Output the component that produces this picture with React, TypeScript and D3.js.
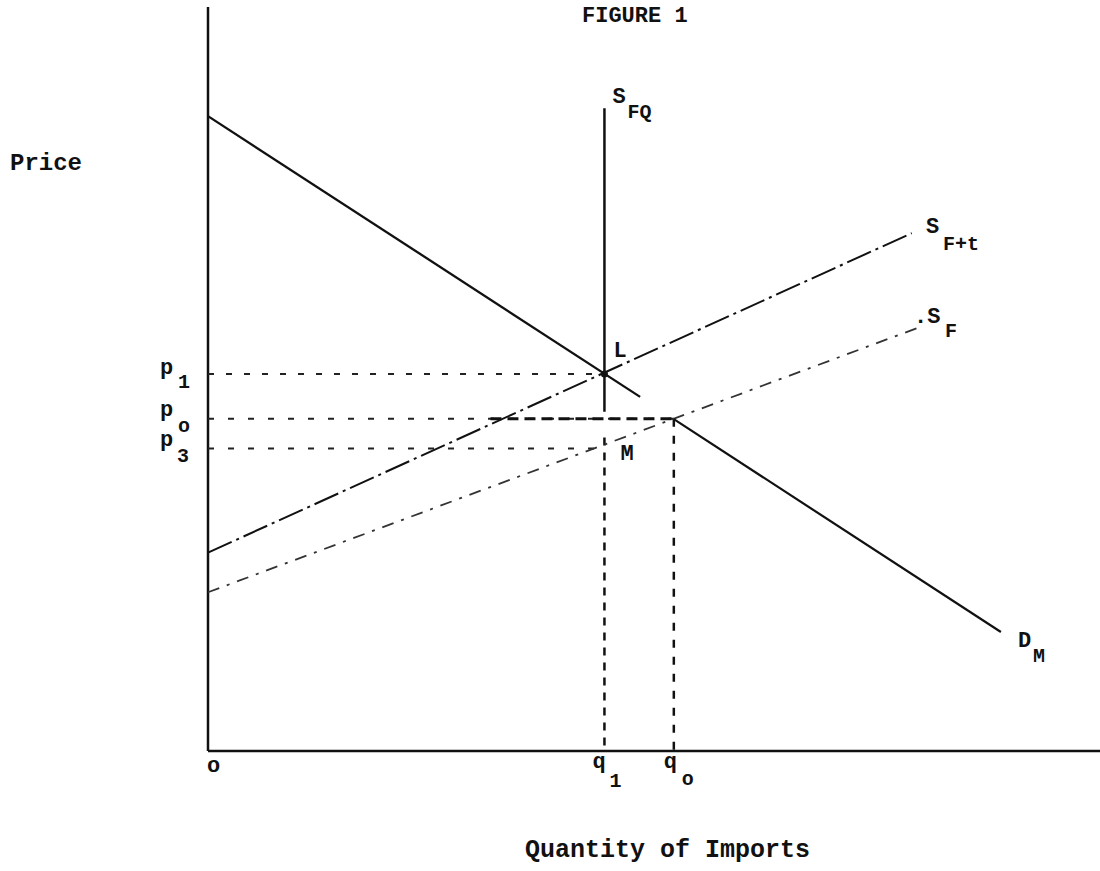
import React from "react";
import * as d3 from "d3";

const W = 1100;
const H = 871;

// values (quantity on x, price on y)
const qDomain = [0, 90];
const pDomain = [0, 75];
const q1 = 40;
const q0 = 47;
const p1 = 38;
const p0 = 33.5;
const p3 = 30.5;

const demandUpper = [{ q: 0, p: 64 }, { q: 43.6, p: 35.7 }];
const demandLower = [{ q: 47, p: 33.45 }, { q: 80, p: 12 }];
const supplyTariff = [{ q: 0, p: 20 }, { q: 71, p: 52.2 }];
const supplyForeign = [{ q: 0, p: 16 }, { q: 72, p: 42.8 }];
const quota = [{ q: 40, p: 64.8 }, { q: 40, p: 34.2 }];
const quotaDrop = [{ q: 40, p: 31.6 }, { q: 40, p: 0 }];
const p0Heavy = [{ q: 28.5, p: 33.5 }, { q: 47, p: 33.5 }];
const p3End = 39;

const font = "'Liberation Mono', 'DejaVu Sans Mono', monospace";

export default function App() {
  const x = d3.scaleLinear().domain(qDomain).range([208, 1100]);
  const y = d3.scaleLinear().domain(pDomain).range([751, 7]);

  const line = d3.line<{ q: number; p: number }>()
    .x((d) => x(d.q))
    .y((d) => y(d.p));

  const txt = { fontFamily: font, fontWeight: "bold" as const, fill: "#111" };

  return (
    <div style={{ position: "absolute", left: 0, top: 0 }}>
      <svg width={W} height={H} style={{ display: "block", background: "#fff" }}>
        {/* axes */}
        <line x1={x(0)} x2={x(0)} y1={y(pDomain[1])} y2={y(0)} stroke="#111" strokeWidth={2.5} />
        <line x1={x(0)} x2={x(qDomain[1])} y1={y(0)} y2={y(0)} stroke="#111" strokeWidth={2.5} />

        {/* price guide lines */}
        <line x1={x(0)} x2={x(q1)} y1={y(p1)} y2={y(p1)} stroke="#222" strokeWidth={2} strokeDasharray="6 12" />
        <line x1={x(0)} x2={x(q0)} y1={y(p0)} y2={y(p0)} stroke="#222" strokeWidth={2} strokeDasharray="6 14" />
        <path d={line(p0Heavy) || ""} stroke="#111" strokeWidth={3} strokeDasharray="11 6" fill="none" />
        <line x1={x(0)} x2={x(p3End)} y1={y(p3)} y2={y(p3)} stroke="#222" strokeWidth={2} strokeDasharray="6 14" />

        {/* quantity guide lines */}
        <path d={line(quotaDrop) || ""} stroke="#111" strokeWidth={2.5} strokeDasharray="8 7" fill="none" />
        <line x1={x(q0)} x2={x(q0)} y1={y(p0)} y2={y(0)} stroke="#111" strokeWidth={2.5} strokeDasharray="8 9" />

        {/* supply curves */}
        <path d={line(supplyTariff) || ""} stroke="#111" strokeWidth={2} strokeDasharray="26 5 3 5" fill="none" />
        <path d={line(supplyForeign) || ""} stroke="#333" strokeWidth={1.8} strokeDasharray="12 8 3 8" fill="none" />
        <path d={line(quota) || ""} stroke="#111" strokeWidth={2.5} fill="none" />

        {/* import demand */}
        <path d={line(demandUpper) || ""} stroke="#111" strokeWidth={2.3} fill="none" />
        <path d={line(demandLower) || ""} stroke="#111" strokeWidth={2.2} fill="none" />
        <circle cx={x(q1)} cy={y(p1)} r={3.5} fill="#111" />

        {/* labels */}
        <text x={582} y={22} fontSize={22} {...txt}>FIGURE 1</text>
        <text x={10} y={170} fontSize={24} {...txt}>Price</text>
        <text x={525} y={857} fontSize={25} {...txt}>Quantity of Imports</text>

        <text x={x(q1) + 8} y={103} fontSize={22} {...txt}>S</text>
        <text x={x(q1) + 23} y={118} fontSize={20} {...txt}>FQ</text>
        <text x={x(q1) + 9} y={357} fontSize={22} {...txt}>L</text>
        <text x={x(q1) + 16} y={460} fontSize={22} {...txt}>M</text>

        <text x={926} y={233} fontSize={22} {...txt}>S</text>
        <text x={943} y={250} fontSize={20} {...txt}>F+t</text>
        <text x={914} y={323} fontSize={22} {...txt}>.S</text>
        <text x={945} y={337} fontSize={20} {...txt}>F</text>
        <text x={1018} y={647} fontSize={22} {...txt}>D</text>
        <text x={1033} y={662} fontSize={20} {...txt}>M</text>

        <text x={160} y={y(p1)} fontSize={22} {...txt}>p</text>
        <text x={178} y={y(p1) + 14} fontSize={20} {...txt}>1</text>
        <text x={160} y={y(p0) - 3} fontSize={22} {...txt}>p</text>
        <text x={178} y={y(p0) + 13} fontSize={20} {...txt}>o</text>
        <text x={160} y={y(p3) - 2} fontSize={22} {...txt}>p</text>
        <text x={177} y={y(p3) + 14} fontSize={20} {...txt}>3</text>

        <text x={x(0) - 1} y={772} fontSize={22} {...txt}>o</text>
        <text x={x(q1) - 12} y={768} fontSize={22} {...txt}>q</text>
        <text x={x(q1) + 5} y={787} fontSize={20} {...txt}>1</text>
        <text x={x(q0) - 10} y={768} fontSize={22} {...txt}>q</text>
        <text x={x(q0) + 8} y={785} fontSize={20} {...txt}>o</text>
      </svg>
    </div>
  );
}
